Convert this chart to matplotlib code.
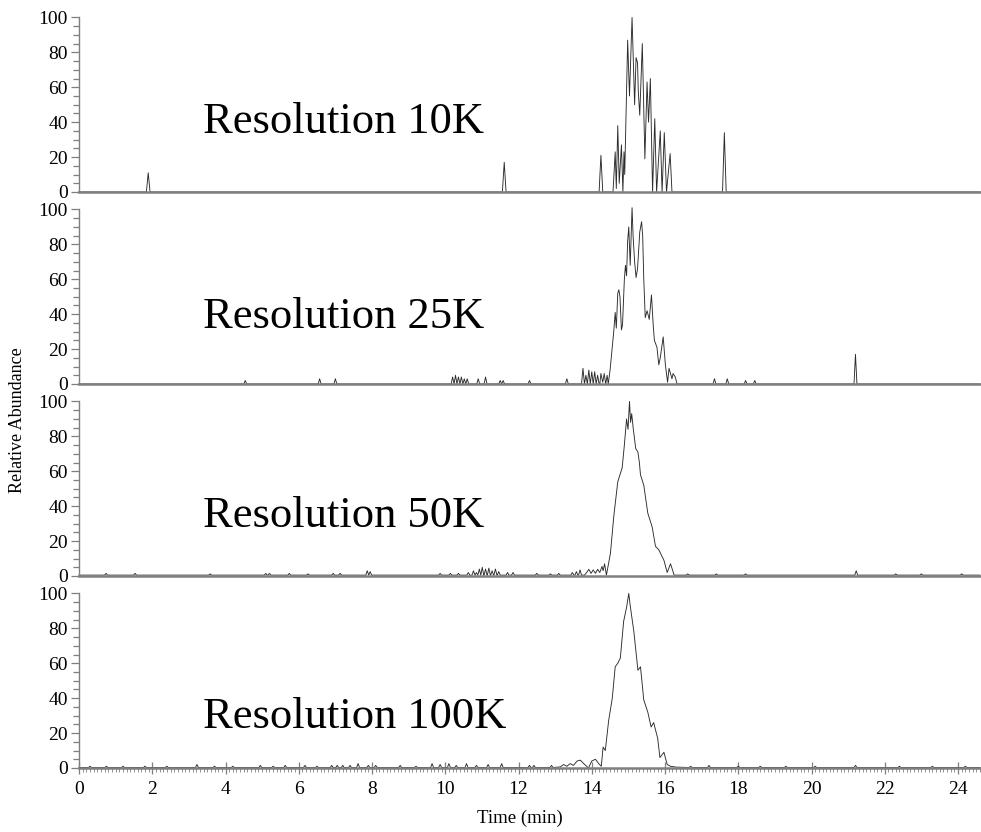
import matplotlib
matplotlib.use('Agg')
import matplotlib.pyplot as plt
from matplotlib.ticker import MultipleLocator, FixedLocator

plt.rcParams['font.family'] = ['Liberation Serif', 'DejaVu Serif']

XMAX = 24.6
panel_labels = ['Resolution 10K', 'Resolution 25K', 'Resolution 50K', 'Resolution 100K']
y_ticks = [0, 20, 40, 60, 80, 100]
x_ticks = [0, 2, 4, 6, 8, 10, 12, 14, 16, 18, 20, 22, 24]

# ---- Resolution 10K ----
spike_t_10k = [1.89, 11.61, 14.25, 17.62]
spike_h_10k = [11, 17, 21, 34]
main_t_10k = [14.58, 14.64, 14.67, 14.71, 14.75, 14.81, 14.85, 14.88, 14.90, 14.98,
              15.03, 15.10, 15.17, 15.21, 15.25, 15.27, 15.31, 15.38, 15.45, 15.51,
              15.55, 15.60, 15.66, 15.72, 15.77, 15.87, 15.92, 15.98, 16.04, 16.14, 16.19]
main_y_10k = [0, 23, 2, 38, 5, 27, 0, 23, 10, 87,
              55, 100, 50, 77, 74, 58, 44, 85, 19, 63,
              40, 65, 0, 42, 0, 35, 0, 34, 0, 22, 0]

# ---- Resolution 25K ----
spike_t_25k = [4.54, 6.57, 7.00, 10.20, 10.28, 10.36, 10.44, 10.52, 10.60, 10.90,
               11.10, 11.50, 11.58, 12.30, 13.32, 13.76, 13.84, 13.92, 14.00, 14.08,
               14.16, 17.35, 17.70, 18.20, 18.45, 21.20]
spike_h_25k = [2, 3, 3, 4, 5, 4, 4, 3, 3, 3,
               4, 2, 2, 2, 3, 9, 5, 8, 7, 7,
               5, 3, 3, 2, 2, 17]
main_t_25k = [14.22, 14.25, 14.30, 14.34, 14.38, 14.42, 14.45, 14.50, 14.55, 14.60,
              14.64, 14.67, 14.71, 14.74, 14.77, 14.81, 14.84, 14.89, 14.92, 14.95,
              14.98, 15.01, 15.05, 15.10, 15.13, 15.17, 15.21, 15.25, 15.31, 15.36,
              15.39, 15.42, 15.46, 15.51, 15.57, 15.63, 15.68, 15.71, 15.78, 15.83,
              15.87, 15.95, 16.01, 16.07, 16.11, 16.15, 16.19, 16.22, 16.28, 16.33]
main_y_25k = [0, 6, 1, 6, 0, 5, 0, 8, 19, 30,
              41, 32, 52, 54, 50, 31, 34, 60, 68, 62,
              82, 90, 68, 101, 84, 70, 61, 66, 87, 93,
              85, 60, 38, 42, 37, 51, 33, 25, 21, 11,
              15, 27, 11, 1, 9, 6, 3, 6, 4, 0]

# ---- Resolution 50K ----
spike_t_50k = [0.74, 1.53, 3.58, 5.10, 5.20, 5.74, 6.25, 6.94, 7.13, 7.87,
               7.95, 9.86, 10.14, 10.36, 10.63, 10.77, 10.85, 10.93, 11.01, 11.10,
               11.19, 11.28, 11.37, 11.46, 11.70, 11.85, 12.50, 12.87, 13.10, 13.47,
               13.58, 13.68, 16.62, 17.40, 18.20, 21.22, 22.30, 23.00, 24.10]
spike_h_50k = [1.5, 1.5, 1.2, 1.5, 1.5, 1.5, 1.2, 1.5, 1.5, 3.0,
               2.5, 1.5, 1.5, 1.5, 2.0, 3.0, 2.0, 4.0, 5.0, 4.0,
               4.5, 3.0, 4.0, 2.5, 2.0, 2.0, 1.5, 1.2, 1.5, 2.0,
               2.5, 3.5, 1.2, 1.2, 1.2, 3.0, 1.2, 1.2, 1.2]
main_t_50k = [13.80, 13.86, 13.92, 13.98, 14.04, 14.10, 14.16, 14.22, 14.28, 14.31,
              14.35, 14.40, 14.51, 14.60, 14.71, 14.83, 14.89, 14.95, 14.99, 15.03,
              15.06, 15.09, 15.13, 15.20, 15.26, 15.30, 15.33, 15.42, 15.53, 15.65,
              15.74, 15.83, 15.97, 16.06, 16.15, 16.25, 16.30]
main_y_50k = [0.5, 2, 3.8, 1.5, 3.5, 1.5, 3.8, 2, 5.5, 3,
              7, 0.5, 13, 34, 54, 62, 75, 90, 84, 100,
              88, 93, 85, 73, 71, 65, 58, 52, 36, 28,
              17, 15, 9, 2, 7, 0.5, 0.5]

# ---- Resolution 100K ----
spike_t_100k = [0.30, 0.75, 1.20, 1.80, 2.40, 3.22, 3.70, 4.20, 4.95, 5.30,
                5.63, 6.17, 6.50, 6.90, 7.05, 7.20, 7.40, 7.62, 7.90, 8.10,
                8.77, 9.20, 9.64, 9.86, 10.10, 10.30, 10.58, 10.85, 11.17, 11.54,
                12.30, 12.42, 12.90, 16.70, 17.20, 18.00, 18.60, 19.30, 20.10, 21.20,
                22.40, 23.30, 24.20]
spike_h_100k = [1.0, 1.0, 1.0, 1.0, 1.0, 2.0, 1.0, 1.0, 1.5, 1.0,
                1.5, 1.5, 1.0, 1.5, 1.5, 1.5, 1.5, 2.5, 1.5, 1.5,
                1.5, 1.0, 2.5, 2.0, 2.5, 1.5, 2.5, 1.5, 2.0, 2.5,
                1.5, 1.5, 1.5, 1.0, 1.5, 1.0, 1.0, 1.0, 1.0, 1.5,
                1.0, 1.0, 1.0]
main_t_100k = [13.14, 13.23, 13.32, 13.41, 13.50, 13.60, 13.69, 13.78, 13.91, 14.00,
               14.10, 14.19, 14.26, 14.31, 14.37, 14.46, 14.56, 14.64, 14.71, 14.78,
               14.87, 14.95, 15.01, 15.05, 15.15, 15.26, 15.33, 15.42, 15.53, 15.62,
               15.69, 15.80, 15.86, 15.97, 16.06, 16.15, 16.30]
main_y_100k = [0.6, 2, 1, 2.5, 1.5, 4, 4.5, 2.5, 0, 4,
               5, 2.5, 1, 12, 10, 27, 40, 58, 60, 63,
               84, 92, 100, 93, 78, 56, 58, 39, 32, 23.5,
               26, 17, 6, 9, 2, 1, 0.5]

baselines = [0.0, 0.0, 0.5, 0.3]
spike_widths = [0.05, 0.04, 0.04, 0.04]

panels = [
    (spike_t_10k, spike_h_10k, main_t_10k, main_y_10k),
    (spike_t_25k, spike_h_25k, main_t_25k, main_y_25k),
    (spike_t_50k, spike_h_50k, main_t_50k, main_y_50k),
    (spike_t_100k, spike_h_100k, main_t_100k, main_y_100k),
]
label_y = [34, 32, 28, 23]


def build_trace(st, sh, mt, my, base, w):
    pts = [(0.0, base), (XMAX, base)]
    for t, h in zip(st, sh):
        pts += [(t - w, base), (t, h), (t + w, base)]
    pts += list(zip(mt, my))
    pts.sort(key=lambda p: p[0])
    return [p[0] for p in pts], [p[1] for p in pts]


W, H = 981, 832
fig = plt.figure(figsize=(W / 100, H / 100), dpi=100)
left = 79 / W
width = (980 - 79) / W
ph = 192 / H
grey = '#7f7f7f'
minor_y = [v for v in range(0, 101, 5) if v % 20]

for i, (st, sh, mt, my) in enumerate(panels):
    bottom = 1 - (i + 1) * 192 / H
    ax = fig.add_axes([left, bottom, width, ph])
    ax.patch.set_visible(False)
    xs, ys = build_trace(st, sh, mt, my, baselines[i], spike_widths[i])
    ax.plot(xs, ys, color='#2b2b2b', lw=0.65, clip_on=False, zorder=2)
    ax.set_xlim(0, XMAX)
    ax.set_ylim(0, 110)
    for s in ['top', 'right']:
        ax.spines[s].set_visible(False)
    ax.spines['left'].set_color(grey)
    ax.spines['left'].set_linewidth(1.0)
    ax.spines['left'].set_bounds(0, 100)
    ax.spines['bottom'].set_color(grey)
    ax.spines['bottom'].set_linewidth(1.8)
    ax.spines['bottom'].set_zorder(2.5)
    ax.set_yticks(y_ticks)
    ax.yaxis.set_minor_locator(FixedLocator(minor_y))
    ax.tick_params(axis='y', which='major', direction='out', length=6, width=0.9,
                   color=grey, labelsize=14, pad=2)
    ax.tick_params(axis='y', which='minor', direction='out', length=4, width=0.9,
                   color=grey)
    if i < 3:
        ax.tick_params(axis='x', which='both', bottom=False, labelbottom=False)
    else:
        ax.set_xticks(x_ticks)
        ax.xaxis.set_minor_locator(MultipleLocator(0.1))
        ax.tick_params(axis='x', which='major', direction='inout', length=8, width=0.9,
                       color=grey, labelsize=14, pad=5)
        ax.tick_params(axis='x', which='minor', direction='out', length=3, width=0.6,
                       color=grey)
    ax.text(3.39, label_y[i], panel_labels[i], fontsize=32, ha='left', va='baseline')

fig.text(18 / W, 1 - 420 / H, 'Relative Abundance', rotation=90, fontsize=13,
         ha='center', va='center')
fig.text(520 / W, 1 - 818 / H, 'Time (min)', fontsize=13.5, ha='center', va='center')

fig.savefig('out.png', dpi=100)
